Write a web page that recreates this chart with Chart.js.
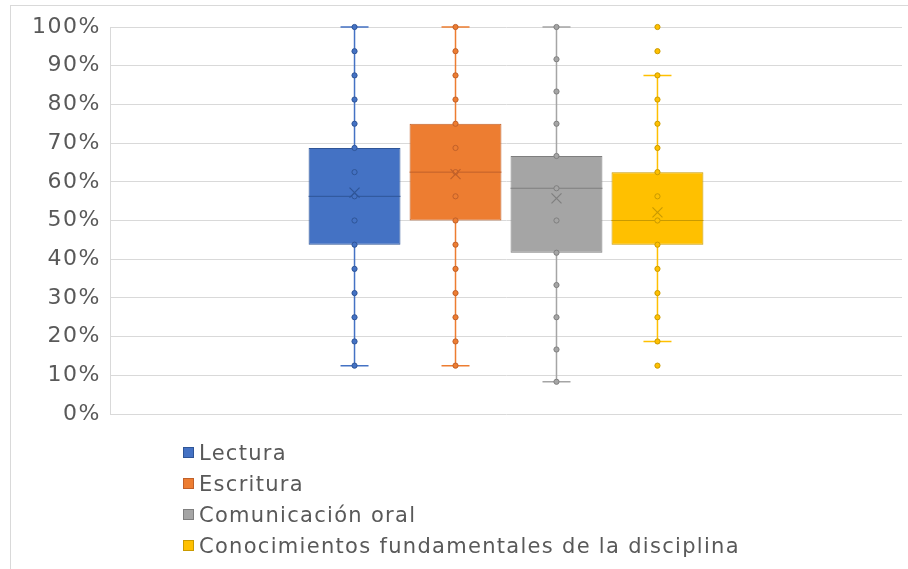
<!DOCTYPE html>
<html>
<head>
<meta charset="utf-8">
<script src="https://cdn.jsdelivr.net/npm/chart.js@4.4.0/dist/chart.umd.min.js"></script>
<style>
  html, body { margin: 0; padding: 0; background: #fff; overflow: hidden; }
  #wrap { position: relative; width: 908px; height: 569px; }
  #frame { position: absolute; left: 10px; top: 5px; width: 960px; height: 620px;
           border: 1px solid #d9d9d9; pointer-events: none; }
  #legend { position: absolute; left: 183px; top: 438px; margin: 0; padding: 0; list-style: none;
            font-family: "DejaVu Sans", sans-serif; font-size: 21px; color: #595959; letter-spacing: 1.3px; }
  #legend li { height: 31px; line-height: 31px; white-space: nowrap; }
  #legend span.box { display: inline-block; width: 9px; height: 9px; border: 1px solid; margin-right: 5px;
                     vertical-align: middle; position: relative; top: -2px; }
</style>
</head>
<body>
<div id="wrap">
  <canvas id="myChart" width="908" height="569"></canvas>
  <div id="frame"></div>
  <ul id="legend"></ul>
</div>
<script>
// series names
var series = ['Lectura', 'Escritura', 'Comunicación oral', 'Conocimientos fundamentales de la disciplina'];
var fillColors = ['#4472C4', '#ED7D31', '#A5A5A5', '#FFC000'];
var darkColors = ['#2F5597', '#C0602A', '#7F7F7F', '#C99A00'];

// box plot statistics (%)
var q1 = [43.75, 50, 41.67, 43.75];
var median = [56.25, 62.5, 58.33, 50];
var q3 = [68.75, 75, 66.67, 62.5];
var mean = [57.2, 62.0, 55.7, 52.1];
var whiskerLow = [12.5, 12.5, 8.33, 18.75];
var whiskerHigh = [100, 100, 100, 87.5];

// individual points (%)
var lecturaPts = [12.5, 18.75, 25, 31.25, 37.5, 43.75, 50, 56.25, 62.5, 68.75, 75, 81.25, 87.5, 93.75, 100];
var escrituraPts = [12.5, 18.75, 25, 31.25, 37.5, 43.75, 50, 56.25, 62.5, 68.75, 75, 81.25, 87.5, 93.75, 100];
var oralPts = [8.33, 16.67, 25, 33.33, 41.67, 50, 58.33, 66.67, 75, 83.33, 91.67, 100];
var disciplinaPts = [12.5, 18.75, 25, 31.25, 37.5, 43.75, 50, 56.25, 62.5, 68.75, 75, 81.25, 87.5, 93.75, 100];
var allPts = [lecturaPts, escrituraPts, oralPts, disciplinaPts];

// y axis ticks
var yTicks = [0, 10, 20, 30, 40, 50, 60, 70, 80, 90, 100];

var datasets = series.map(function (name, i) {
    return {
        label: name,
        data: [[q1[i], q3[i]]],
        backgroundColor: fillColors[i],
        borderColor: darkColors[i],
        borderWidth: 1,
        borderSkipped: false,
        categoryPercentage: 0.51,
        barPercentage: 0.91
    };
});

function barGeom(chart, i) {
    var bar = chart.getDatasetMeta(i).data[0];
    var p = bar.getProps(['x', 'width'], true);
    return { x: p.x, half: p.width / 2 };
}

var boxExtras = {
    id: 'boxExtras',
    beforeDraw: function (chart) {
        chart.ctx.letterSpacing = '1.5px';
    },
    beforeDatasetsDraw: function (chart) {
        var ctx = chart.ctx, y = chart.scales.y;
        ctx.save();
        series.forEach(function (s, i) {
            var g = barGeom(chart, i);
            ctx.strokeStyle = fillColors[i];
            ctx.lineWidth = 1.5;
            ctx.beginPath();
            ctx.moveTo(g.x, y.getPixelForValue(q3[i]));
            ctx.lineTo(g.x, y.getPixelForValue(whiskerHigh[i]));
            ctx.moveTo(g.x, y.getPixelForValue(q1[i]));
            ctx.lineTo(g.x, y.getPixelForValue(whiskerLow[i]));
            ctx.moveTo(g.x - 14, y.getPixelForValue(whiskerHigh[i]));
            ctx.lineTo(g.x + 14, y.getPixelForValue(whiskerHigh[i]));
            ctx.moveTo(g.x - 14, y.getPixelForValue(whiskerLow[i]));
            ctx.lineTo(g.x + 14, y.getPixelForValue(whiskerLow[i]));
            ctx.stroke();
        });
        ctx.restore();
    },
    afterDatasetsDraw: function (chart) {
        var ctx = chart.ctx, y = chart.scales.y;
        ctx.save();
        series.forEach(function (s, i) {
            var g = barGeom(chart, i);
            // median
            var my = y.getPixelForValue(median[i]);
            ctx.strokeStyle = darkColors[i];
            ctx.lineWidth = 1;
            ctx.beginPath();
            ctx.moveTo(g.x - g.half, my);
            ctx.lineTo(g.x + g.half, my);
            ctx.stroke();
            // points
            allPts[i].forEach(function (v) {
                ctx.beginPath();
                ctx.arc(g.x, y.getPixelForValue(v), 2.6, 0, Math.PI * 2);
                ctx.fillStyle = fillColors[i];
                ctx.fill();
                ctx.strokeStyle = darkColors[i];
                ctx.lineWidth = 1;
                ctx.stroke();
            });
            // mean
            var ym = y.getPixelForValue(mean[i]);
            ctx.strokeStyle = darkColors[i];
            ctx.lineWidth = 1.2;
            ctx.beginPath();
            ctx.moveTo(g.x - 5, ym - 5);
            ctx.lineTo(g.x + 5, ym + 5);
            ctx.moveTo(g.x + 5, ym - 5);
            ctx.lineTo(g.x - 5, ym + 5);
            ctx.stroke();
        });
        ctx.restore();
    }
};

var ctx = document.getElementById('myChart').getContext('2d');
var chart = new Chart(ctx, {
    type: 'bar',
    data: {
        labels: [''],
        datasets: datasets
    },
    options: {
        responsive: false,
        animation: false,
        layout: { padding: { top: 27, right: 6, bottom: 155, left: 0 } },
        plugins: {
            legend: { display: false },
            tooltip: { enabled: false }
        },
        scales: {
            x: { display: false },
            y: {
                min: 0,
                max: 100,
                afterFit: function (scale) { scale.width = 110; },
                afterBuildTicks: function (scale) {
                    scale.ticks = yTicks.map(function (v) { return { value: v }; });
                },
                ticks: {
                    padding: 9,
                    color: '#595959',
                    font: { family: 'DejaVu Sans', size: 22 },
                    callback: function (v) { return v + '%'; }
                },
                grid: { color: '#d9d9d9', drawTicks: false },
                border: { color: '#d9d9d9' }
            }
        }
    },
    plugins: [boxExtras]
});

// legend as a single column under the plot
var legendEl = document.getElementById('legend');
series.forEach(function (name, i) {
    var li = document.createElement('li');
    var sq = document.createElement('span');
    sq.className = 'box';
    sq.style.background = fillColors[i];
    sq.style.borderColor = darkColors[i];
    li.appendChild(sq);
    li.appendChild(document.createTextNode(name));
    legendEl.appendChild(li);
});
</script>
</body>
</html>
